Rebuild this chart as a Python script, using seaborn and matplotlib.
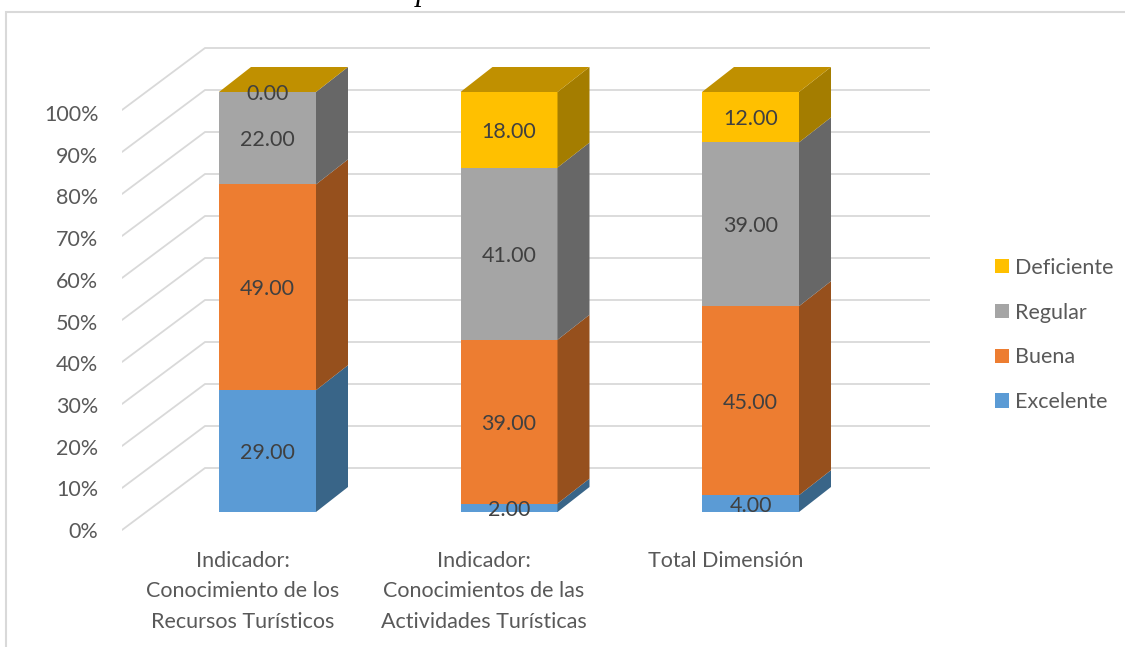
import numpy as np
import seaborn as sns
import matplotlib.pyplot as plt
from matplotlib.patches import Polygon, Rectangle

categories = ["Indicador:\nConocimiento de los\nRecursos Turísticos",
              "Indicador:\nConocimientos de las\nActividades Turísticas",
              "Total Dimensión"]
series_names = ["Excelente", "Buena", "Regular", "Deficiente"]
excelente = [29, 2, 4]
buena = [49, 39, 45]
regular = [22, 41, 39]
deficiente = [0, 18, 12]
y_ticks = list(range(0, 101, 10))

front_colors = ["#5B9BD5", "#ED7D31", "#A5A5A5", "#FFC000"]
side_colors = ["#396588", "#96501D", "#676767", "#A47D00"]
top_color = "#C09000"
grid_color = "#D9D9D9"
text_color = "#595959"

# pixel layout of the picture
W, H = 1125, 647
PX_X = 241.5  # px per category
PX_Y = 4.2    # px per percent
X0, Y0 = 267.5, 512  # first bar centre, bar base
FS = 15.5

sns.set_theme(style="white")
plt.rcParams["font.family"] = ["Lato", "DejaVu Sans"]

fig = plt.figure(figsize=(W / 100, H / 100), dpi=100)
left, right, top, bottom = 122, 930, 47, 545
ax = fig.add_axes([left / W, 1 - bottom / H, (right - left) / W, (bottom - top) / H])

base = np.zeros(3)
for name, vals, col in zip(series_names, [excelente, buena, regular, deficiente], front_colors):
    sns.barplot(x=list(range(3)), y=vals, bottom=base, color=col, saturation=1, linewidth=0,
                width=97 / PX_X, native_scale=True, label=name, legend=False, ax=ax, zorder=3)
    base = base + np.array(vals)

sns.despine(ax=ax, left=True, bottom=True)

# depth of the fake 3d bars and of the chart floor
bar_dx, bar_dy = 32 / PX_X, 25 / PX_Y
half = 97 / PX_X / 2
wall_x = (205 - X0) / PX_X
wall_off = (Y0 - 468) / PX_Y
front_off = (Y0 - 530) / PX_Y

for t in y_ticks:
    ax.plot([(left - X0) / PX_X, wall_x, (right - X0) / PX_X],
            [t + front_off, t + wall_off, t + wall_off],
            color=grid_color, lw=1.3, zorder=1, solid_joinstyle="miter")

base = np.zeros(3)
for vals, col in zip([excelente, buena, regular, deficiente], side_colors):
    for i, v in enumerate(vals):
        if v == 0:
            continue
        b = base[i]
        xr = i + half
        ax.add_patch(Polygon([(xr, b), (xr + bar_dx, b + bar_dy),
                              (xr + bar_dx, b + v + bar_dy), (xr, b + v)],
                             facecolor=col, edgecolor="none", zorder=3))
    base = base + np.array(vals)

for i, total in enumerate(base):
    ax.add_patch(Polygon([(i - half, total), (i + half, total),
                          (i + half + bar_dx, total + bar_dy), (i - half + bar_dx, total + bar_dy)],
                         facecolor=top_color, edgecolor="none", zorder=3))

for cont in ax.containers:
    ax.bar_label(cont, fmt="%.2f", label_type="center", padding=-1.5, color="#404040", fontsize=FS, zorder=5)

# percent labels run on a slightly tighter spacing than the gridlines
ax.set_yticks([(Y0 - (530 - 4.17 * t)) / PX_Y for t in y_ticks])
ax.set_yticklabels([f"{t}%" for t in y_ticks], fontsize=FS, color=text_color)
ax.set_xticks([i - 25 / PX_X for i in range(3)])
ax.set_xticklabels(categories, fontsize=FS, color=text_color, linespacing=1.67, va="top")
ax.tick_params(axis="y", length=0, pad=17)
ax.tick_params(axis="x", length=0, pad=4)
ax.set_xlabel("")
ax.set_ylabel("")

# set_yticks widens the view, so limits go last
ax.set_xlim((left - X0) / PX_X, (right - X0) / PX_X)
ax.set_ylim((Y0 - bottom) / PX_Y, (Y0 - top) / PX_Y)

handles, labels = ax.get_legend_handles_labels()
ax.legend(handles[::-1], labels[::-1], loc="center left", frameon=False,
          bbox_to_anchor=(995 / W, 1 - 335 / H), bbox_transform=fig.transFigure,
          fontsize=FS, labelcolor=text_color, borderpad=0, borderaxespad=0,
          handlelength=0.65, handleheight=0.65, handletextpad=0.28, labelspacing=1.15)

# chart frame, runs off the right and bottom of the crop
fig.add_artist(Rectangle((6 / W, -0.1), 1.2, 1.1 - 12 / H, transform=fig.transFigure,
                         facecolor="none", edgecolor=grid_color, lw=1.5, zorder=0))
fig.text(33 / W, 1.0, "Dimensión Actividad Cultural por Indicadores.", family="Liberation Serif",
         style="italic", fontsize=22.4, color="black", va="baseline", ha="left")

fig.savefig("out.png", dpi=100)
